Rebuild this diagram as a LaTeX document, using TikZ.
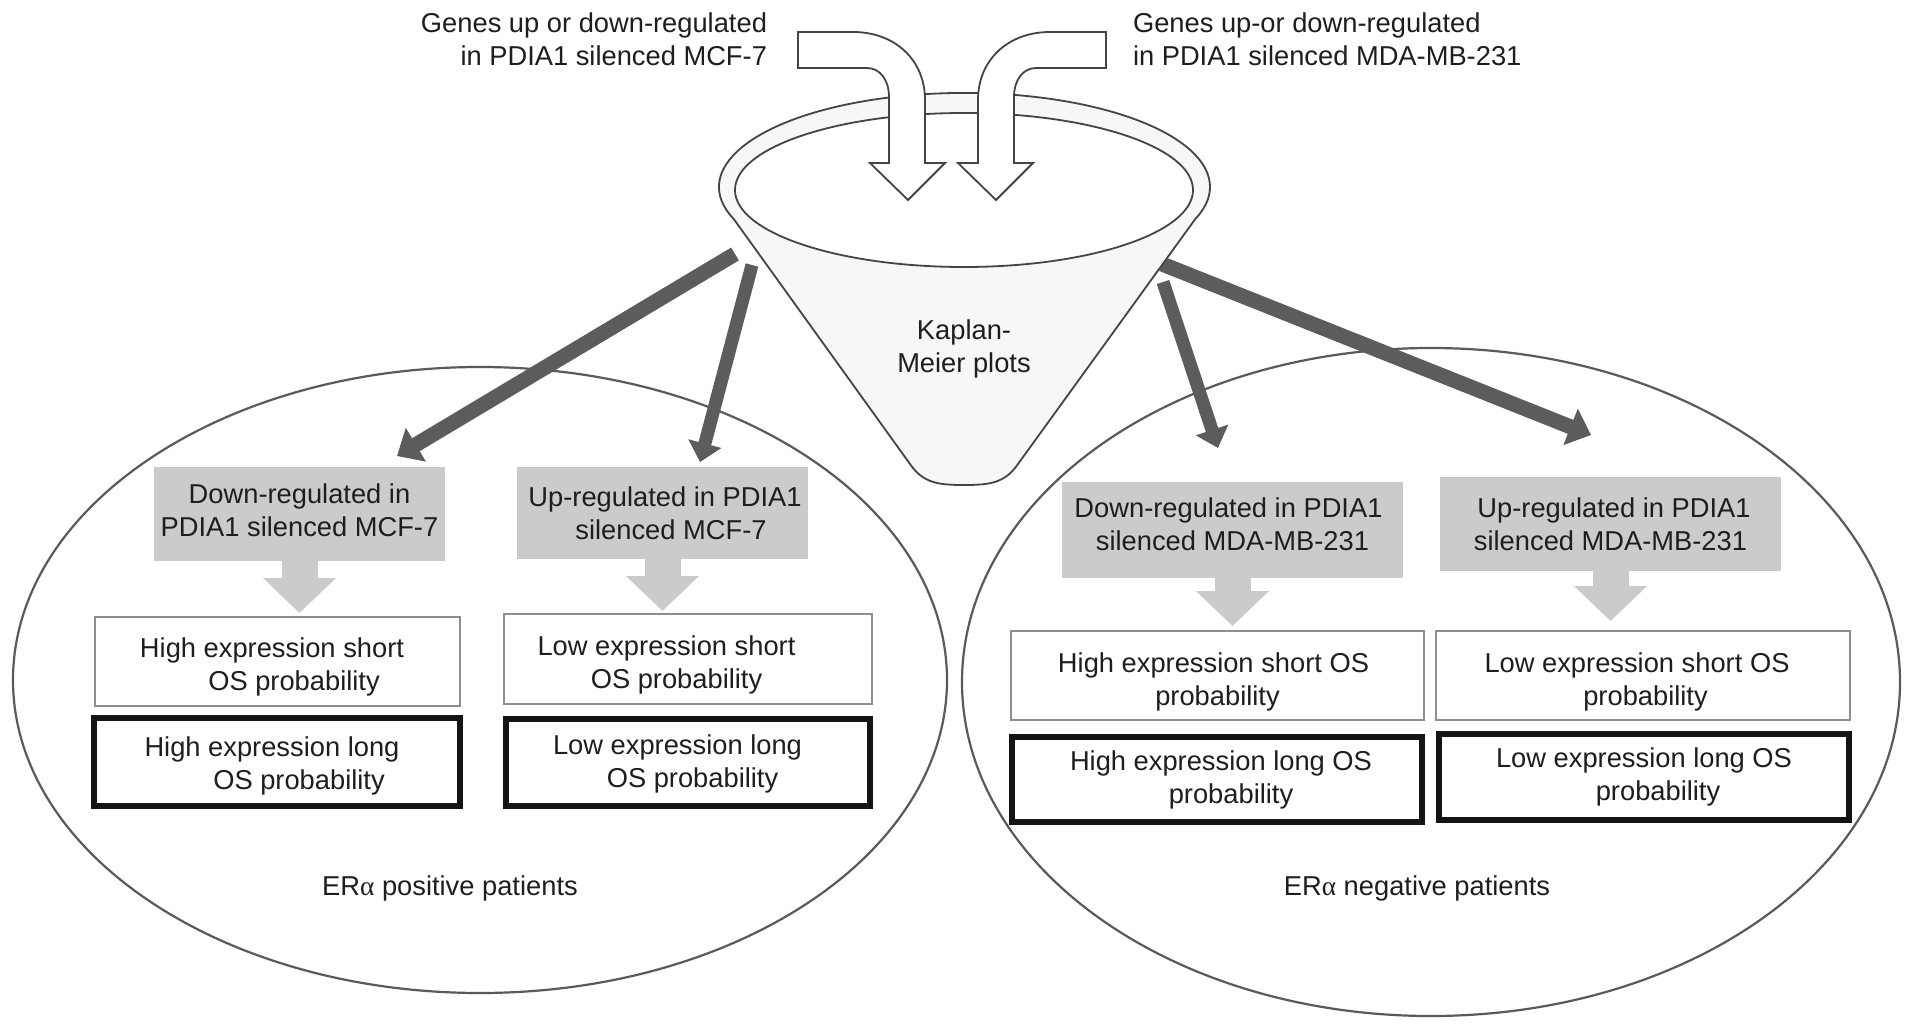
\documentclass[tikz,border=0pt]{standalone}
\usepackage{fontspec}
\setmainfont{Liberation Sans}
\newfontfamily\alphafont{Liberation Serif}
\usetikzlibrary{arrows.meta,shapes.geometric,calc}
\definecolor{txt}{HTML}{1E1E1E}
\definecolor{darkarr}{HTML}{5C5C5C}
\definecolor{hdr}{HTML}{CBCBCB}
\definecolor{wbord}{HTML}{8E8E8E}
\definecolor{ell}{HTML}{5A5A5A}
\definecolor{fun}{HTML}{444444}
\definecolor{funfill}{HTML}{F7F7F7}
\newcommand\padd[1]{\makebox[#1pt]{}}
\newcommand\mytop[1]{\rule{0pt}{#1pt}}
\newcommand\mybot[1]{\rule[-#1pt]{0pt}{0pt}}
\begin{document}
\begin{tikzpicture}[x=1pt,y=-1pt,
  font=\fontsize{27.3}{33}\selectfont, text=txt,
  every node/.style={inner sep=0pt, outer sep=0pt},
  hdrbox/.style={rectangle, fill=hdr, align=center},
  wbox/.style={rectangle, draw=wbord, line width=2, fill=white, align=center},
  kbox/.style={rectangle, draw=black!92, line width=6, fill=white, align=center},
  bigarr/.style={darkarr, line width=15, -{Triangle[length=22pt,width=38pt]}},
  smallarr/.style={darkarr, line width=13, -{Triangle[length=19pt,width=33pt]}},
  grayarr/.style={hdr, line width=36, -{Triangle[length=35pt,width=71pt]}},
  funline/.style={draw=fun, line width=1.8},
  ellline/.style={draw=ell, line width=2.2}
]
\useasboundingbox (0,0) rectangle (1913,1033);
\fill[white] (0,0) rectangle (1913,1033);

% patient ellipses
\node[ellipse, ellline, minimum width=934, minimum height=626] (posE) at (480,680) {};
\node[ellipse, ellline, minimum width=938, minimum height=668] (negE) at (1431,682) {};

% dark arrows from funnel
\coordinate (lbS) at (735,254); \coordinate (lbT) at (397,456);
\coordinate (lsS) at (752,265); \coordinate (lsT) at (700,462);
\coordinate (rsS) at (1163,282); \coordinate (rsT) at (1218,448);
\coordinate (rbS) at (1162,264); \coordinate (rbT) at (1591,435);
\draw[bigarr] (lbS) -- (lbT);
\draw[smallarr] (lsS) -- (lsT);
\draw[smallarr] (rsS) -- (rsT);
\draw[bigarr] (rbS) -- (rbT);

% funnel
\path[funline, fill=funfill] (733.8,219.1)
  arc[start angle=160, end angle=380, x radius=245.5, y radius=94]
  -- (1018,464) .. controls (1005,483) and (990,485) .. (964,485)
  .. controls (938,485) and (923,483) .. (910,464) -- cycle;
\path[funline, fill=white] (964,190) ellipse [x radius=229, y radius=77];

% bent input arrows
\path[funline, fill=white] (798,32) -- (853,32)
  .. controls (895,32) and (925,60) .. (925,100) -- (925,163) -- (945,163)
  -- (908,200) -- (870,163) -- (889,163) -- (889,97)
  .. controls (889,80) and (880,68) .. (867,68) -- (798,68) -- cycle;
\path[funline, fill=white] (1106,32) -- (1050,32)
  .. controls (1008,32) and (978,60) .. (978,100) -- (978,163) -- (958,163)
  -- (996,200) -- (1033,163) -- (1014,163) -- (1014,97)
  .. controls (1014,80) and (1023,68) .. (1036,68) -- (1106,68) -- cycle;

% texts on top
\node[anchor=east, align=right] (tl) at (767,39) {Genes up or down-regulated\\in PDIA1 silenced MCF-7};
\node[anchor=west, align=left] (tr) at (1133,39) {Genes up-or down-regulated\\in PDIA1 silenced MDA-MB-231};
\node[align=center] (km) at (964,349) {Kaplan-\\Meier plots};

% header boxes
\node[hdrbox, minimum width=291, minimum height=94] (hA) at (299.5,514) {Down-regulated in\\PDIA1 silenced MCF-7\mybot{8}};
\node[hdrbox, minimum width=291, minimum height=92] (hB) at (662.5,513) {\padd{5}Up-regulated in PDIA1\\\padd{17}silenced MCF-7};
\node[hdrbox, minimum width=341, minimum height=96] (hC) at (1232.5,530) {Down-regulated in PDIA1\padd{8}\\silenced MDA-MB-231\mybot{12}};
\node[hdrbox, minimum width=341, minimum height=94] (hD) at (1610.5,524) {\padd{7}Up-regulated in PDIA1\\silenced MDA-MB-231};

% white boxes
\node[wbox, minimum width=365, minimum height=89] (wA) at (277.5,661.5) {\mytop{30}High expression short\padd{11}\\\padd{33}OS probability};
\node[wbox, minimum width=368, minimum height=90] (wB) at (688,659) {\mytop{32}Low expression short\padd{43}\\OS probability\padd{23}};
\node[wbox, minimum width=413, minimum height=89] (wC) at (1217.5,675.5) {\mytop{32}High expression short OS\padd{8}\\probability};
\node[wbox, minimum width=414, minimum height=89] (wD) at (1643,675.5) {\mytop{32}Low expression short OS\padd{12}\\\padd{5}probability};

% black boxes
\node[kbox, minimum width=366, minimum height=88] (kA) at (277,762) {\mytop{28}High expression long\padd{10}\\\padd{44}OS probability};
\node[kbox, minimum width=364, minimum height=87] (kB) at (688,762.5) {\mytop{22}Low expression long\padd{21}\\\padd{9}OS probability};
\node[kbox, minimum width=410, minimum height=85] (kC) at (1217,779.5) {\padd{8}High expression long OS\\\padd{28}probability};
\node[kbox, minimum width=410, minimum height=86] (kD) at (1644,777) {Low expression long OS\\\padd{28}probability};

% gray arrows from header to white boxes
\draw[grayarr] (hA.south) -- ($(hA.south |- wA.north)+(0,-4)$);
\draw[grayarr] (hB.south) -- ($(hB.south |- wB.north)+(0,-3)$);
\draw[grayarr] (hC.south) -- ($(hC.south |- wC.north)+(0,-5)$);
\draw[grayarr] (hD.south) -- ($(hD.south |- wD.north)+(0,-10)$);

% patient group labels
\node (posL) at (450,888) {ER{\alphafont α} positive patients};
\node (negL) at (1417,888) {ER{\alphafont α} negative patients};
\end{tikzpicture}
\end{document}
